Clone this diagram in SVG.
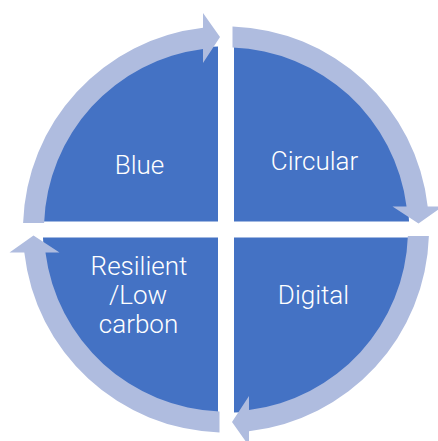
<svg xmlns="http://www.w3.org/2000/svg" xmlns:xlink="http://www.w3.org/1999/xlink" width="438" height="441" viewBox="0 0 438 441">
  <style>
    .seg { fill: #4472C4; }
    .arc { fill: #AFBCDF; }
    .lbl { fill: #FFFFFF; font-family: Roboto, "Liberation Sans", sans-serif; font-weight: 300; font-size: 26px; text-anchor: middle; }
  </style>
  <defs>
    <path id="segShape" d="M -8,-8 L -183,-8 A 175 175 0 0 1 -8,-183 Z"/>
    <path id="arcShape" d="M -202.9,-6.5 A 203 203 0 0 1 -23,-201.69 L -23,-216.5 L -6,-192.5 L -23,-166.5 L -23,-180.54 A 182 182 0 0 0 -181.88,-6.5 Z"/>
  </defs>
  <rect width="438" height="441" fill="#FFFFFF"/>
  <g id="node-blue">
    <use xlink:href="#segShape" href="#segShape" class="seg" transform="translate(226,229.5)"/>
    <text class="lbl" x="139.5" y="174">Blue</text>
  </g>
  <g id="node-circular">
    <use xlink:href="#segShape" href="#segShape" class="seg" transform="translate(226,229.5) rotate(90)"/>
    <text class="lbl" x="314.5" y="169.5">Circular</text>
  </g>
  <g id="node-digital">
    <use xlink:href="#segShape" href="#segShape" class="seg" transform="translate(226,229.5) rotate(180)"/>
    <text class="lbl" x="313.5" y="303.5">Digital</text>
  </g>
  <g id="node-resilient">
    <use xlink:href="#segShape" href="#segShape" class="seg" transform="translate(226,229.5) rotate(270)"/>
    <text class="lbl" x="139" y="274.5">Resilient</text>
    <text class="lbl" x="138" y="303.5">/Low</text>
    <text class="lbl" x="138.5" y="332.5">carbon</text>
  </g>
  <g id="connectors">
    <use xlink:href="#arcShape" href="#arcShape" class="arc" transform="translate(226,229.5)"/>
    <use xlink:href="#arcShape" href="#arcShape" class="arc" transform="translate(226,229.5) rotate(90)"/>
    <use xlink:href="#arcShape" href="#arcShape" class="arc" transform="translate(226,229.5) rotate(180)"/>
    <use xlink:href="#arcShape" href="#arcShape" class="arc" transform="translate(226,229.5) rotate(270)"/>
  </g>
</svg>
